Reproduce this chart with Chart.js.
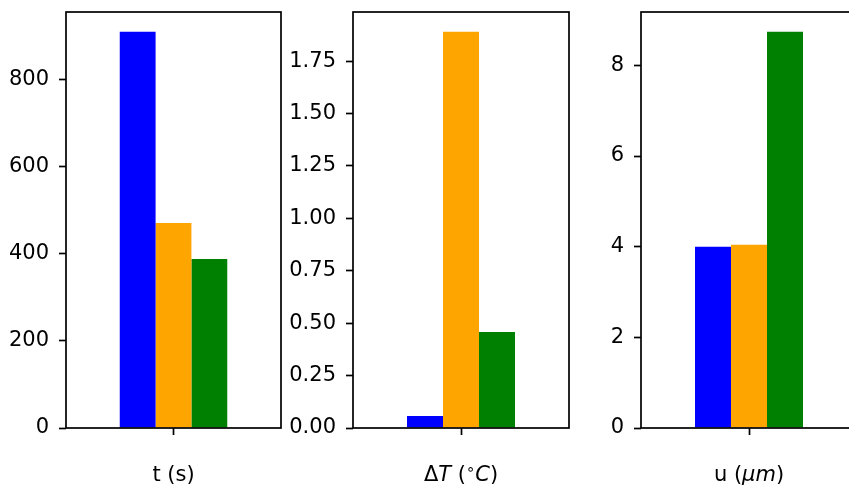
<!DOCTYPE html>
<html>
<head>
<meta charset="utf-8">
<script src="https://cdn.jsdelivr.net/npm/chart.js@4.4.0/dist/chart.umd.min.js"></script>
<style>
  html, body { margin: 0; padding: 0; background: #fff; }
  #fig { position: relative; width: 849px; height: 490px; overflow: hidden; }
  #fig canvas { position: absolute; top: 0; }
  .xlabel {
    position: absolute; top: 462px; color: #000;
    font-family: "DejaVu Sans"; font-size: 21px; line-height: 24px;
    transform: translateX(-50%); white-space: nowrap;
  }
  .xlabel i { font-style: oblique; }
  .xlabel sup { font-size: 70%; vertical-align: 0.5em; line-height: 0; }
</style>
</head>
<body>
<div id="fig">
  <canvas id="panel0" width="290" height="490" style="left:0px"></canvas>
  <canvas id="panel1" width="290" height="490" style="left:290px"></canvas>
  <canvas id="panel2" width="290" height="490" style="left:580px"></canvas>
</div>
<script>
// one group of three bars per quantity, each in its own panel
const quantities = ['t (s)', 'ΔT (°C)', 'u (μm)'];
const quantityLabelsHtml = ['t (s)', 'Δ<i>T</i> (<sup>∘</sup><i>C</i>)', 'u (<i>μm</i>)'];
const seriesNames = ['Case 1', 'Case 2', 'Case 3'];
const blueValues = [910, 0.057, 4.00];
const orangeValues = [471, 1.89, 4.04];
const greenValues = [388, 0.458, 8.74];
const yTickSteps = [200, 0.25, 2];
const yTickDecimals = [0, 2, 0];

// panel layout (px): y-axis band width and right padding inside each 290px canvas
const yAxisWidths = [66, 63, 61];
const rightPads = [9, 11, 13];
const canvasLefts = [0, 290, 580];

const fontSpec = { family: 'DejaVu Sans', size: 21 };

// matplotlib-style box around the axes
const framePlugin = {
  id: 'frame',
  afterDatasetsDraw(chart) {
    const { ctx, chartArea: a } = chart;
    ctx.save();
    ctx.strokeStyle = '#000';
    ctx.lineWidth = 1.7;
    ctx.strokeRect(a.left, a.top, a.right - a.left, a.bottom - a.top);
    ctx.restore();
  }
};

quantities.forEach((q, i) => {
  const vals = [blueValues[i], orangeValues[i], greenValues[i]];
  const yMax = Math.max(...vals) * 1.05;

  const chart = new Chart(document.getElementById('panel' + i), {
    type: 'bar',
    data: {
      labels: [q],
      datasets: [
        { label: seriesNames[0], data: [blueValues[i]], backgroundColor: '#0000ff' },
        { label: seriesNames[1], data: [orangeValues[i]], backgroundColor: '#ffa500' },
        { label: seriesNames[2], data: [greenValues[i]], backgroundColor: '#008000' }
      ]
    },
    options: {
      responsive: false,
      animation: false,
      categoryPercentage: 0.5,
      barPercentage: 1.0,
      borderWidth: 0,
      layout: { padding: { top: 12, right: rightPads[i], left: 0, bottom: 0 } },
      plugins: {
        legend: { display: false },
        tooltip: { enabled: false }
      },
      scales: {
        x: {
          type: 'category',
          offset: true,
          grid: {
            offset: false,
            drawOnChartArea: false,
            drawTicks: true,
            tickLength: 7,
            tickWidth: 1.7,
            tickColor: '#000'
          },
          border: { display: false },
          ticks: { display: false },
          afterFit(scale) {
            scale.height = 62;
            scale.paddingLeft = 0;
            scale.paddingRight = 0;
          }
        },
        y: {
          min: 0,
          max: yMax,
          grid: {
            drawOnChartArea: false,
            drawTicks: true,
            tickLength: 7,
            tickWidth: 1.7,
            tickColor: '#000'
          },
          border: { display: false },
          ticks: {
            stepSize: yTickSteps[i],
            includeBounds: false,
            padding: 10,
            color: '#000',
            font: fontSpec,
            callback: v => Number(v).toFixed(yTickDecimals[i])
          },
          afterFit(scale) {
            scale.width = yAxisWidths[i];
            scale.paddingTop = 0;
            scale.paddingBottom = 0;
          }
        }
      }
    },
    plugins: [framePlugin]
  });

  const a = chart.chartArea;
  const lbl = document.createElement('div');
  lbl.className = 'xlabel';
  lbl.innerHTML = quantityLabelsHtml[i];
  lbl.style.left = (canvasLefts[i] + (a.left + a.right) / 2) + 'px';
  document.getElementById('fig').appendChild(lbl);
});
</script>
</body>
</html>
